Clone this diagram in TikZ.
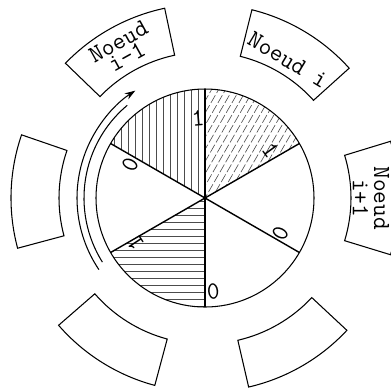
\documentclass[tikz,border=0pt]{standalone}
\usepackage{fontspec}
\usetikzlibrary{arrows.meta}

\begin{document}
\begin{tikzpicture}[x=0.02cm, y=0.02cm,
  every node/.style={font=\fontsize{14}{10}\selectfont\ttfamily, inner sep=0pt, align=center},
  digit/.style={font=\fontsize{14}{14}\selectfont\ttfamily},
  spoke/.style={thick},
  hatch/.style={line width=0.35pt, black!70},
  boxline/.style={semithick}]
  \useasboundingbox (-205,-192) rectangle (186,198);
  % hatched sectors
  \begin{scope}
    \clip (0,0) -- (90:109) arc[start angle=90, end angle=150, radius=109] -- cycle;
    \foreach \x in {-105,-98,...,0} \draw[hatch] (\x,0) -- (\x,112);
  \end{scope}
  \begin{scope}
    \clip (0,0) -- (30:109) arc[start angle=30, end angle=90, radius=109] -- cycle;
    \foreach \x in {-70,-63,...,190} \draw[hatch, dash pattern=on 5pt off 1.5pt] (\x,0) ++(240:130) -- ++(60:260);
  \end{scope}
  \begin{scope}
    \clip (0,0) -- (210:109) arc[start angle=210, end angle=270, radius=109] -- cycle;
    \foreach \y in {-108,-101,...,0} \draw[hatch] (-112,\y) -- (0,\y);
  \end{scope}
  \draw[boxline] (0,0) circle[radius=109];
  \foreach \a in {30,90,...,330} \draw[spoke] (0,0) -- (\a:109);
  % digits
  \foreach \a/\r/\t [count=\k] in {95/80/1, 36/81/1, -25/83/0, -85/94/0, 213/83/1, 156/82/0}
    \node[digit, rotate=\a-90] (d\k) at (\a:\r) {\t};
  % arrow round the ring
  \draw[semithick, -{Stealth[length=6pt, width=4pt]}] (214:128) arc[start angle=214, end angle=123, radius=128];
  \draw[semithick] (212:121) arc[start angle=212, end angle=130, radius=121];
  % node boxes
  \foreach \a in {0,59,119,178,238,300}
    \draw[boxline] ({\a-17}:146) arc[start angle=\a-17, end angle=\a+17, radius=146]
      -- ({\a+17}:194) arc[start angle=\a+17, end angle=\a-17, radius=194] -- cycle;
  \node[rotate=-90, font=\fontsize{14}{12}\selectfont\ttfamily] (nip) at (0:166) {Noeud\\i+1};
  \node[rotate=-31] (ni) at (59:161) {Noeud i};
  \node[rotate=29] (nim) at (119:170) {Noeud\\i-1};
\end{tikzpicture}
\end{document}
